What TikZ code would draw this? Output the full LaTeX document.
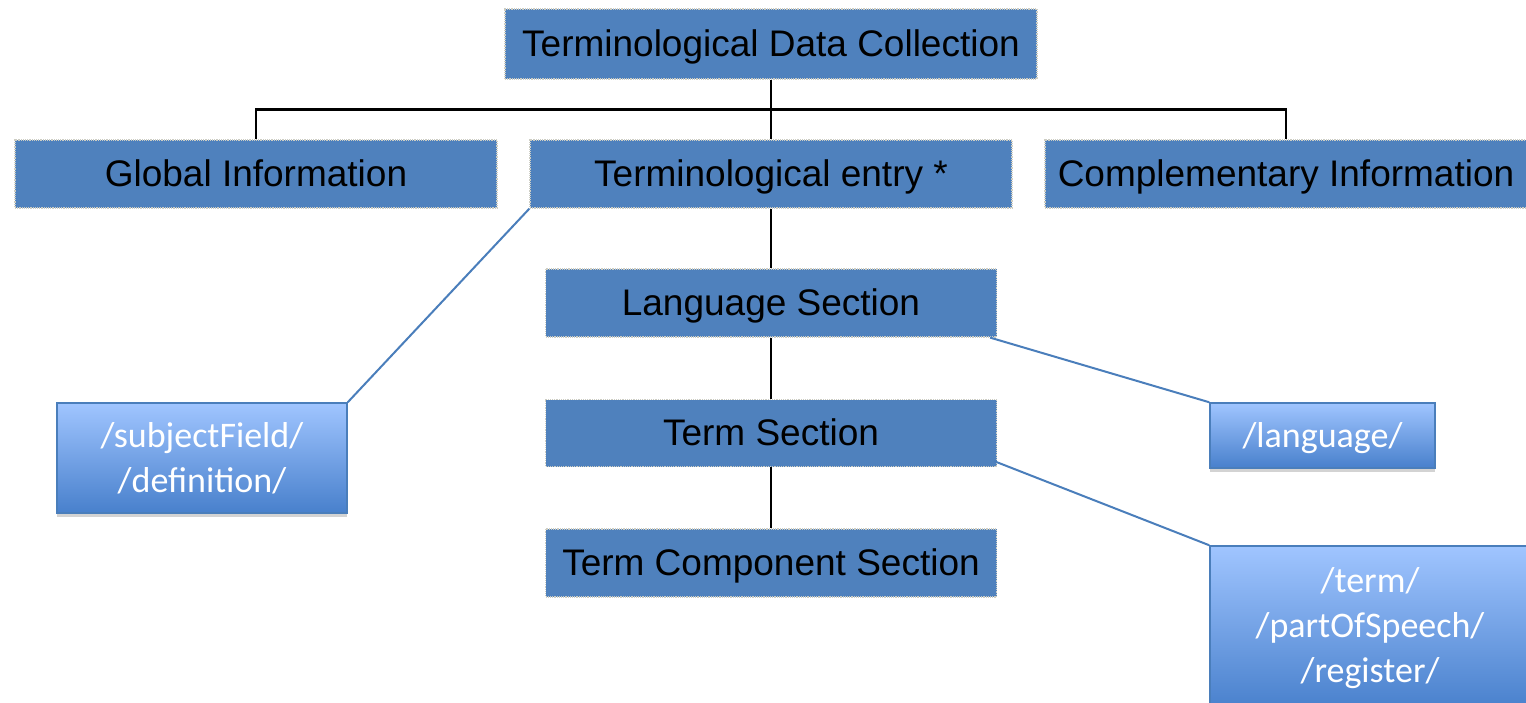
\documentclass[tikz,border=0pt]{standalone}
\usepackage{fontspec}
\setmainfont{Liberation Sans}
\newfontfamily\carlitofont{Carlito}
\usetikzlibrary{shadows}
\definecolor{boxblue}{RGB}{79,129,189}
\definecolor{boxedge}{RGB}{205,205,195}
\definecolor{linkblue}{RGB}{74,126,187}
\definecolor{lighttop}{RGB}{160,197,255}
\definecolor{lightbot}{RGB}{72,128,204}
\tikzset{
  darkbox/.style={fill=boxblue, draw=boxedge, line width=1.2pt, densely dotted, inner sep=0pt,
    text=black, font=\fontsize{37}{44}\selectfont, text height=33.5pt, text depth=7.8pt},
  lightbox/.style={top color=lighttop, bottom color=lightbot, draw=linkblue, line width=1.5pt,
    inner sep=0pt, text=white, align=center, font=\carlitofont\fontsize{36}{45}\selectfont,
    drop shadow={opacity=0.35, shadow xshift=0pt, shadow yshift=-4pt}},
  tree/.style={draw=black, line width=2.2pt},
  link/.style={draw=linkblue, line width=2pt}
}
\begin{document}
\begin{tikzpicture}[x=1pt,y=-1pt]
\useasboundingbox (0,0) rectangle (1526,702);
\clip (0,0) rectangle (1526,702);
\node[darkbox, minimum width=532pt, minimum height=70pt] (top) at (771,44) {Terminological Data Collection};
\node[darkbox, minimum width=482pt, minimum height=68pt] (glob) at (256,174) {Global Information};
\node[darkbox, minimum width=482pt, minimum height=68pt] (ent) at (771,174) {Terminological entry *};
\node[darkbox, minimum width=482pt, minimum height=68pt] (comp) at (1286,174) {Complementary Information};
\node[darkbox, minimum width=451pt, minimum height=68pt] (lang) at (771,303) {Language Section};
\node[darkbox, minimum width=451pt, minimum height=67pt] (tsec) at (771,433) {Term Section};
\node[darkbox, minimum width=451pt, minimum height=68pt] (tcs) at (771,563) {Term Component Section};

\node[lightbox, minimum width=290pt, minimum height=110pt] (sf) at (202,458) {/subjectField/\\/definition/};
\node[lightbox, minimum width=225pt, minimum height=65pt, text height=30pt, text depth=7pt] (lb) at (1322.5,435.5) {/language/};
\node[lightbox, minimum width=320pt, minimum height=164pt] (tb) at (1370,628) {/term/\\/partOfSpeech/\\/register/};

\draw[tree] (glob.north) -- ++(0,-30) -| (comp.north);
\draw[tree] (top.south) -- (ent.north);
\draw[tree] (ent.south) -- (lang.north);
\draw[tree] (lang.south) -- (tsec.north);
\draw[tree] (tsec.south) -- (tcs.north);

\draw[link] (ent.south west) -- (sf.north east);
\draw[link] ([shift={(-7,0)}]lang.south east) -- (lb.north west);
\draw[link] ([shift={(-3,-6)}]tsec.south east) -- (tb.north west);
\end{tikzpicture}
\end{document}
